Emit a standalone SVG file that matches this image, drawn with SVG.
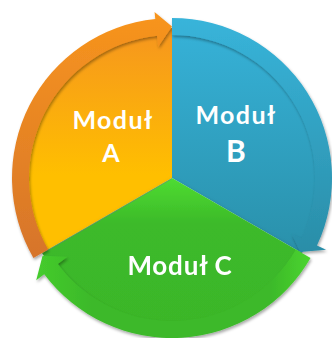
<svg xmlns="http://www.w3.org/2000/svg" width="332" height="338" viewBox="0 0 332 338">
  <defs>
    <linearGradient id="gWedgeA" gradientUnits="userSpaceOnUse" x1="0" y1="30" x2="0" y2="175">
      <stop offset="0" stop-color="#F6961E"/>
      <stop offset="1" stop-color="#FFBF00"/>
    </linearGradient>
    <linearGradient id="gBandA" gradientUnits="userSpaceOnUse" x1="0" y1="10" x2="0" y2="260">
      <stop offset="0" stop-color="#F8951D"/>
      <stop offset="1" stop-color="#D6742B"/>
    </linearGradient>
    <linearGradient id="gWedgeB" gradientUnits="userSpaceOnUse" x1="0" y1="30" x2="0" y2="250">
      <stop offset="0" stop-color="#36B1D7"/>
      <stop offset="1" stop-color="#2A91AB"/>
    </linearGradient>
    <linearGradient id="gBandB" gradientUnits="userSpaceOnUse" x1="0" y1="18" x2="0" y2="255">
      <stop offset="0" stop-color="#38B4DA"/>
      <stop offset="1" stop-color="#2A8DA7"/>
    </linearGradient>
    <linearGradient id="gWedgeC" gradientUnits="userSpaceOnUse" x1="0" y1="178" x2="0" y2="330">
      <stop offset="0" stop-color="#4FDC31"/>
      <stop offset="0.3" stop-color="#3CBA2A"/>
      <stop offset="1" stop-color="#3BB628"/>
    </linearGradient>
    <linearGradient id="gBandC" gradientUnits="userSpaceOnUse" x1="36" y1="0" x2="312" y2="0">
      <stop offset="0" stop-color="#45CC2D"/>
      <stop offset="0.2" stop-color="#3CB929"/>
      <stop offset="0.85" stop-color="#3CB929"/>
      <stop offset="1" stop-color="#4CD630"/>
    </linearGradient>
    <filter id="shadow" x="-20%" y="-20%" width="140%" height="140%">
      <feDropShadow dx="1" dy="2" stdDeviation="1.6" flood-color="#000" flood-opacity="0.35"/>
    </filter>
    <filter id="softShadow" x="-20%" y="-20%" width="140%" height="140%">
      <feDropShadow dx="1" dy="2" stdDeviation="2" flood-color="#000" flood-opacity="0.25"/>
    </filter>
  </defs>
  <style>
    .label { fill: #FFFFFF; font-family: Lato, "Liberation Sans", sans-serif; font-weight: bold; text-anchor: middle; }
    .divider { stroke: #7a7a7a; stroke-opacity: 0.55; stroke-width: 1; fill: none; }
  </style>

  <g id="modul-a">
    <path d="M172,178 L42.1,253 A150 150 0 0 1 172,28 Z" fill="url(#gWedgeA)"/>
    <text class="label" x="113" y="129" font-size="25" letter-spacing="1.4">Moduł</text>
    <text class="label" x="111" y="162" font-size="25">A</text>
  </g>

  <g id="modul-b">
    <path d="M172,178 L172,28 A150 150 0 0 1 301.9,253 Z" fill="url(#gWedgeB)"/>
    <text class="label" x="236" y="124" font-size="25" letter-spacing="1.4">Moduł</text>
    <text class="label" x="236" y="162" font-size="30">B</text>
  </g>

  <g id="modul-c" filter="url(#softShadow)">
    <path d="M172,178 L301.9,253 A150 150 0 0 1 42.1,253 Z" fill="url(#gWedgeC)"/>
    <line class="divider" x1="172" y1="178.5" x2="46" y2="251.3"/>
    <text class="label" x="180" y="275" font-size="26" letter-spacing="0.8">Moduł C</text>
  </g>

  <g id="connectors" filter="url(#shadow)">
    <path id="arrow-c-a" d="M310.56,258 A160 160 0 0 1 44.22,274.29 L36.23,280.31 L42.57,255.77 L67.38,256.84 L57.79,264.06 A143 143 0 0 0 295.84,249.5 Z" fill="url(#gBandC)"/>
    <path id="arrow-b-c" d="M172,18 A160 160 0 0 1 317.01,245.62 L326.07,249.85 L300.17,252 L291.63,233.79 L301.6,238.43 A143 143 0 0 0 172,35 Z" fill="url(#gBandB)"/>
    <path id="arrow-a-b" d="M33.44,258 A160 160 0 0 1 155.28,18.88 L154.54,11.92 L172,26.5 L158.2,46.72 L157.05,35.78 A143 143 0 0 0 48.16,249.5 Z" fill="url(#gBandA)"/>
  </g>
</svg>
